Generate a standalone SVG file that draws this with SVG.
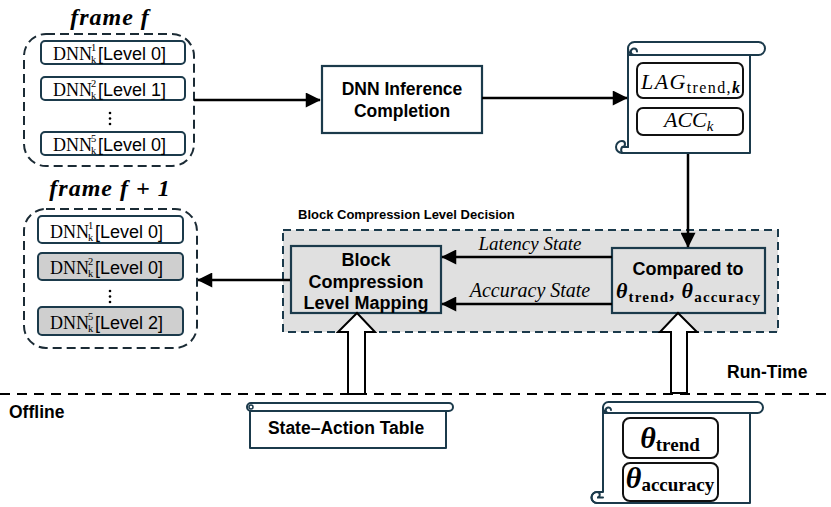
<svg xmlns="http://www.w3.org/2000/svg" width="831" height="507" viewBox="0 0 831 507">
  <defs>
    <style>
      .bg { fill: #ffffff; }
      .title { font-family: "Liberation Serif", "DejaVu Serif", serif; font-weight: bold; font-style: italic; font-size: 24px; letter-spacing: 1px; fill: #000; }
      .group { fill: none; stroke: #1b2b35; stroke-width: 2; stroke-dasharray: 9 5; }
      .dnn { fill: #ffffff; stroke: #1b3a4b; stroke-width: 2; }
      .dnn-gray { fill: #cfcfcf; stroke: #1b3a4b; stroke-width: 2; }
      .serif { font-family: "Liberation Serif", "DejaVu Serif", serif; fill: #000; }
      .sans { font-family: "Liberation Sans", Arial, sans-serif; fill: #000; }
      .bold { font-family: "Liberation Sans", Arial, sans-serif; font-weight: bold; fill: #000; }
      .box { fill: #ffffff; stroke: #1b3a4b; stroke-width: 2.2; }
      .box-gray { fill: #e0e0e0; stroke: #1b3a4b; stroke-width: 2.2; }
      .panel { fill: #e0e0e0; stroke: #1b3a4b; stroke-width: 2; stroke-dasharray: 8 5; }
      .scroll { fill: #ffffff; stroke: #1b3a4b; stroke-width: 2; stroke-linejoin: round; }
      .scroll-line { fill: none; stroke: #1b3a4b; stroke-width: 2; stroke-linecap: round; }
      .inner { fill: #ffffff; stroke: #111111; stroke-width: 2; }
      .edge { fill: none; stroke: #000; stroke-width: 2.5; }
      .hollow { fill: #ffffff; stroke: #000; stroke-width: 2; stroke-linejoin: miter; }
      .divider { fill: none; stroke: #000; stroke-width: 2; stroke-dasharray: 10 7; }
      .mi { font-family: "Liberation Serif", "DejaVu Serif", serif; font-style: italic; fill: #000; }
      .idx { font-family: "Liberation Serif", "DejaVu Serif", serif; font-size: 10.5px; fill: #000; }
    </style>
    <marker id="arrow" viewBox="0 0 10 10" refX="9.5" refY="5" markerWidth="7" markerHeight="6" markerUnits="strokeWidth" orient="auto">
      <path d="M0 0 L10 5 L0 10 Z" fill="#000"/>
    </marker>
  </defs>

  <rect class="bg" x="0" y="0" width="831" height="507"/>

  <!-- frame f -->
  <g id="frame-f">
    <text class="title" x="110" y="25" text-anchor="middle">frame f</text>
    <rect class="group" x="24" y="34" width="170" height="132" rx="22"/>
    <rect class="dnn" x="41" y="41" width="144" height="23" rx="4"/>
    <text class="serif" x="53" y="60" font-size="18">DNN</text>
    <text class="idx" x="91" y="51">1</text>
    <text class="idx" x="91" y="63">k</text>
    <text class="sans" x="98" y="60" font-size="18">[Level 0]</text>
    <rect class="dnn" x="41" y="77" width="144" height="23" rx="4"/>
    <text class="serif" x="53" y="96" font-size="18">DNN</text>
    <text class="idx" x="91" y="87">2</text>
    <text class="idx" x="91" y="99">k</text>
    <text class="sans" x="98" y="96" font-size="18">[Level 1]</text>
    <circle cx="110" cy="113" r="1.3" fill="#000"/>
    <circle cx="110" cy="118.5" r="1.3" fill="#000"/>
    <circle cx="110" cy="124" r="1.3" fill="#000"/>
    <rect class="dnn" x="41" y="132" width="144" height="23" rx="4"/>
    <text class="serif" x="53" y="151" font-size="18">DNN</text>
    <text class="idx" x="91" y="142">5</text>
    <text class="idx" x="91" y="154">k</text>
    <text class="sans" x="98" y="151" font-size="18">[Level 0]</text>
  </g>

  <!-- frame f + 1 -->
  <g id="frame-f1">
    <text class="title" x="110" y="196" text-anchor="middle">frame f + 1</text>
    <rect class="group" x="24" y="209" width="173" height="139" rx="22"/>
    <rect class="dnn" x="38" y="216" width="145" height="27" rx="4"/>
    <text class="serif" x="50" y="238" font-size="18">DNN</text>
    <text class="idx" x="88" y="229">1</text>
    <text class="idx" x="88" y="241">k</text>
    <text class="sans" x="95" y="238" font-size="18">[Level 0]</text>
    <rect class="dnn-gray" x="38" y="253" width="145" height="27" rx="4"/>
    <text class="serif" x="50" y="274" font-size="18">DNN</text>
    <text class="idx" x="88" y="265">2</text>
    <text class="idx" x="88" y="277">k</text>
    <text class="sans" x="95" y="274" font-size="18">[Level 0]</text>
    <circle cx="110" cy="291" r="1.3" fill="#000"/>
    <circle cx="110" cy="296.5" r="1.3" fill="#000"/>
    <circle cx="110" cy="302" r="1.3" fill="#000"/>
    <rect class="dnn-gray" x="38" y="307" width="145" height="28" rx="4"/>
    <text class="serif" x="50" y="329" font-size="18">DNN</text>
    <text class="idx" x="88" y="320">5</text>
    <text class="idx" x="88" y="332">k</text>
    <text class="sans" x="95" y="329" font-size="18">[Level 2]</text>
  </g>

  <!-- DNN inference -->
  <g id="inference">
    <rect class="box" x="322" y="66" width="160" height="67"/>
    <text class="bold" x="402" y="95" font-size="17.5" text-anchor="middle">DNN Inference</text>
    <text class="bold" x="402" y="117" font-size="17.5" text-anchor="middle">Completion</text>
  </g>

  <!-- run-time measurements scroll -->
  <g id="metrics">
    <path class="scroll" d="M628 48.5 V147 H622 A6 6 0 0 0 622 153 H750 V55 H628 Z"/>
    <rect class="scroll" x="628" y="42" width="137" height="13" rx="6.5"/>
    <path class="scroll-line" d="M634 55 A3.2 3.2 0 0 1 634 48.6 A3 3 0 0 1 637 51.5"/>
    <path class="scroll-line" d="M628 153 H622 A6 6 0 0 1 622 141 A3 3 0 0 1 622 147 H628"/>
    <rect class="inner" x="637" y="63" width="106" height="35" rx="6"/>
    <text class="mi" x="641" y="89" font-size="22" textLength="99" lengthAdjust="spacing">LAG<tspan font-style="normal" font-size="16" dy="4">trend,</tspan><tspan font-weight="bold" font-size="16">k</tspan></text>
    <rect class="inner" x="637" y="108" width="106" height="27" rx="6"/>
    <text class="mi" x="664" y="127" font-size="22">ACC<tspan font-size="15" dy="4">k</tspan></text>
  </g>

  <!-- decision panel -->
  <g id="decision">
    <text class="bold" x="298" y="219" font-size="13">Block Compression Level Decision</text>
    <rect class="panel" x="283" y="230" width="495" height="102"/>
  </g>

  <g id="mapping">
    <rect class="box-gray" x="291" y="246" width="150" height="67"/>
    <text class="bold" x="366" y="266" font-size="18" text-anchor="middle">Block</text>
    <text class="bold" x="366" y="288" font-size="18" text-anchor="middle">Compression</text>
    <text class="bold" x="366" y="309" font-size="18" text-anchor="middle">Level Mapping</text>
  </g>

  <g id="compare">
    <rect class="box-gray" x="612" y="248" width="153" height="65"/>
    <text class="bold" x="688" y="275" font-size="18" text-anchor="middle">Compared to</text>
    <text class="serif" x="616" y="298" font-size="22" font-weight="bold" textLength="144" lengthAdjust="spacing"><tspan font-style="italic">θ</tspan><tspan font-size="15" dy="4">trend</tspan><tspan dy="-4" font-size="20">, </tspan><tspan font-style="italic">θ</tspan><tspan font-size="15" dy="4">accuracy</tspan></text>
  </g>

  <!-- offline tables -->
  <g id="state-action-table">
    <path class="scroll" d="M250 407 V448 H446 V411"/>
    <rect class="scroll" x="247" y="403" width="206" height="8" rx="4"/>
    <circle cx="251" cy="407" r="2" fill="none" stroke="#1b3a4b" stroke-width="1.5"/>
    <text class="bold" x="346" y="434" font-size="17.5" text-anchor="middle">State–Action Table</text>
  </g>

  <g id="thresholds">
    <path class="scroll" d="M603 407.5 V492 H597 A5.5 5.5 0 0 0 597 503 H750 V413 H603 Z"/>
    <rect class="scroll" x="603" y="402" width="160" height="11" rx="5.5"/>
    <path class="scroll-line" d="M608 413 A2.8 2.8 0 0 1 608 407.5 A2.6 2.6 0 0 1 611 410"/>
    <path class="scroll-line" d="M603 503 H597 A5.5 5.5 0 0 1 597 492 A2.7 2.7 0 0 1 597 497.5 H603"/>
    <rect class="inner" x="623" y="418" width="95" height="40" rx="7"/>
    <text class="serif" x="670" y="448" font-weight="bold" text-anchor="middle"><tspan font-style="italic" font-size="30">θ</tspan><tspan font-size="19" dy="3">trend</tspan></text>
    <rect class="inner" x="623" y="463" width="95" height="38" rx="7"/>
    <text class="serif" x="670" y="488" font-weight="bold" text-anchor="middle"><tspan font-style="italic" font-size="30">θ</tspan><tspan font-size="19" dy="3">accuracy</tspan></text>
  </g>

  <!-- connectors -->
  <g id="connectors">
    <line class="edge" x1="194" y1="100" x2="320" y2="100" marker-end="url(#arrow)"/>
    <line class="edge" x1="482" y1="98" x2="627" y2="98" marker-end="url(#arrow)"/>
    <line class="edge" x1="688" y1="154" x2="688" y2="247" marker-end="url(#arrow)"/>
    <line class="edge" x1="612" y1="257" x2="442" y2="257" marker-end="url(#arrow)"/>
    <line class="edge" x1="612" y1="304" x2="442" y2="304" marker-end="url(#arrow)"/>
    <line class="edge" x1="290" y1="280" x2="198" y2="280" marker-end="url(#arrow)"/>
    <text class="mi" x="530" y="250" font-size="19" text-anchor="middle">Latency State</text>
    <text class="mi" x="530" y="297" font-size="20" text-anchor="middle">Accuracy State</text>
    <polygon class="hollow" points="357,313 375,332 365,332 365,394 348,394 348,332 338,332"/>
    <polygon class="hollow" points="678,313 697,332 687,332 687,393 671,393 671,332 660,332"/>
  </g>

  <!-- run-time / offline split -->
  <g id="divider">
    <line class="divider" x1="0" y1="394" x2="831" y2="394"/>
    <text class="bold" x="727" y="378" font-size="17.5">Run-Time</text>
    <text class="bold" x="9" y="418" font-size="17.5">Offline</text>
  </g>
</svg>
